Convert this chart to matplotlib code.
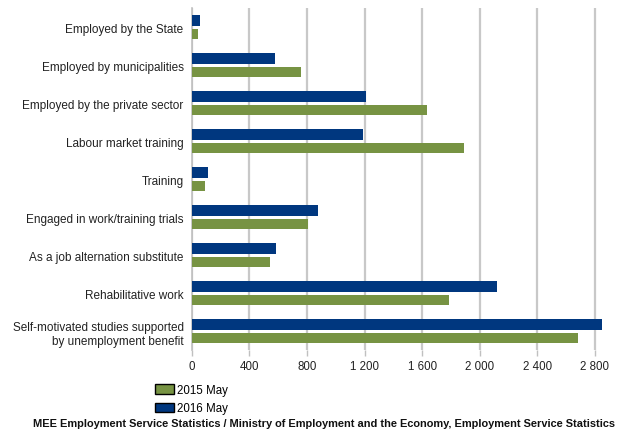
import numpy as np
import matplotlib.pyplot as plt
from matplotlib.patches import Patch

plt.rcParams['font.family'] = ['Liberation Sans', 'DejaVu Sans']

categories = ['Employed by the State', 'Employed by municipalities',
              'Employed by the private sector', 'Labour market training',
              'Training', 'Engaged in work/training trials',
              'As a job alternation substitute', 'Rehabilitative work',
              'Self-motivated studies supported\nby unemployment benefit']
may2015 = [40, 756, 1636, 1893, 90, 804, 541, 1789, 2683]
may2016 = [55, 575, 1213, 1192, 111, 873, 582, 2121, 2849]
xticks = [0, 400, 800, 1200, 1600, 2000, 2400, 2800]
xticklabels = ['0', '400', '800', '1 200', '1 600', '2 000', '2 400', '2 800']

green = '#779343'
navy = '#00377f'

fig = plt.figure(figsize=(6.42, 4.35), dpi=100)
ax = fig.add_axes([0.299, 0.193, 0.643, 0.786])

y = np.arange(len(categories))
h = 0.27
ax.barh(y - 0.175, may2016, height=h, color=navy, zorder=3)
ax.barh(y + 0.175, may2015, height=h, color=green, zorder=3)

ax.set_ylim(len(categories) - 0.5, -0.5)
ax.set_xlim(0, 2870)
ax.set_yticks(y)
ax.set_yticklabels(categories, fontsize=8.5, color='#222222', linespacing=1.3)
ax.set_xticks(xticks)
ax.set_xticklabels(xticklabels, fontsize=8.3, color='#222222')
ax.tick_params(axis='y', length=0, pad=6)
ax.tick_params(axis='x', length=4, color='#c0c0c0', width=1, pad=3)
ax.grid(axis='x', color='#c8c8c8', linewidth=1.6, zorder=0)
for s in ['top', 'right', 'bottom']:
    ax.spines[s].set_visible(False)
ax.spines['left'].set_color('#c0c0c0')
ax.spines['left'].set_linewidth(1.2)

handles = [Patch(facecolor=green, edgecolor='black', label='2015 May'),
           Patch(facecolor=navy, edgecolor='black', label='2016 May')]
fig.legend(handles=handles, loc='upper left', bbox_to_anchor=(0.241, 0.115),
           frameon=False, fontsize=8.3, handlelength=1.7, handleheight=0.9,
           handletextpad=0.2, labelspacing=0.55, borderpad=0, borderaxespad=0)

fig.text(0.052, 0.026, 'MEE Employment Service Statistics / Ministry of Employment and the Economy, Employment Service Statistics',
         fontsize=7.95, fontweight='bold', color='#111111', ha='left', va='center')

fig.savefig('out.png', dpi=100)
